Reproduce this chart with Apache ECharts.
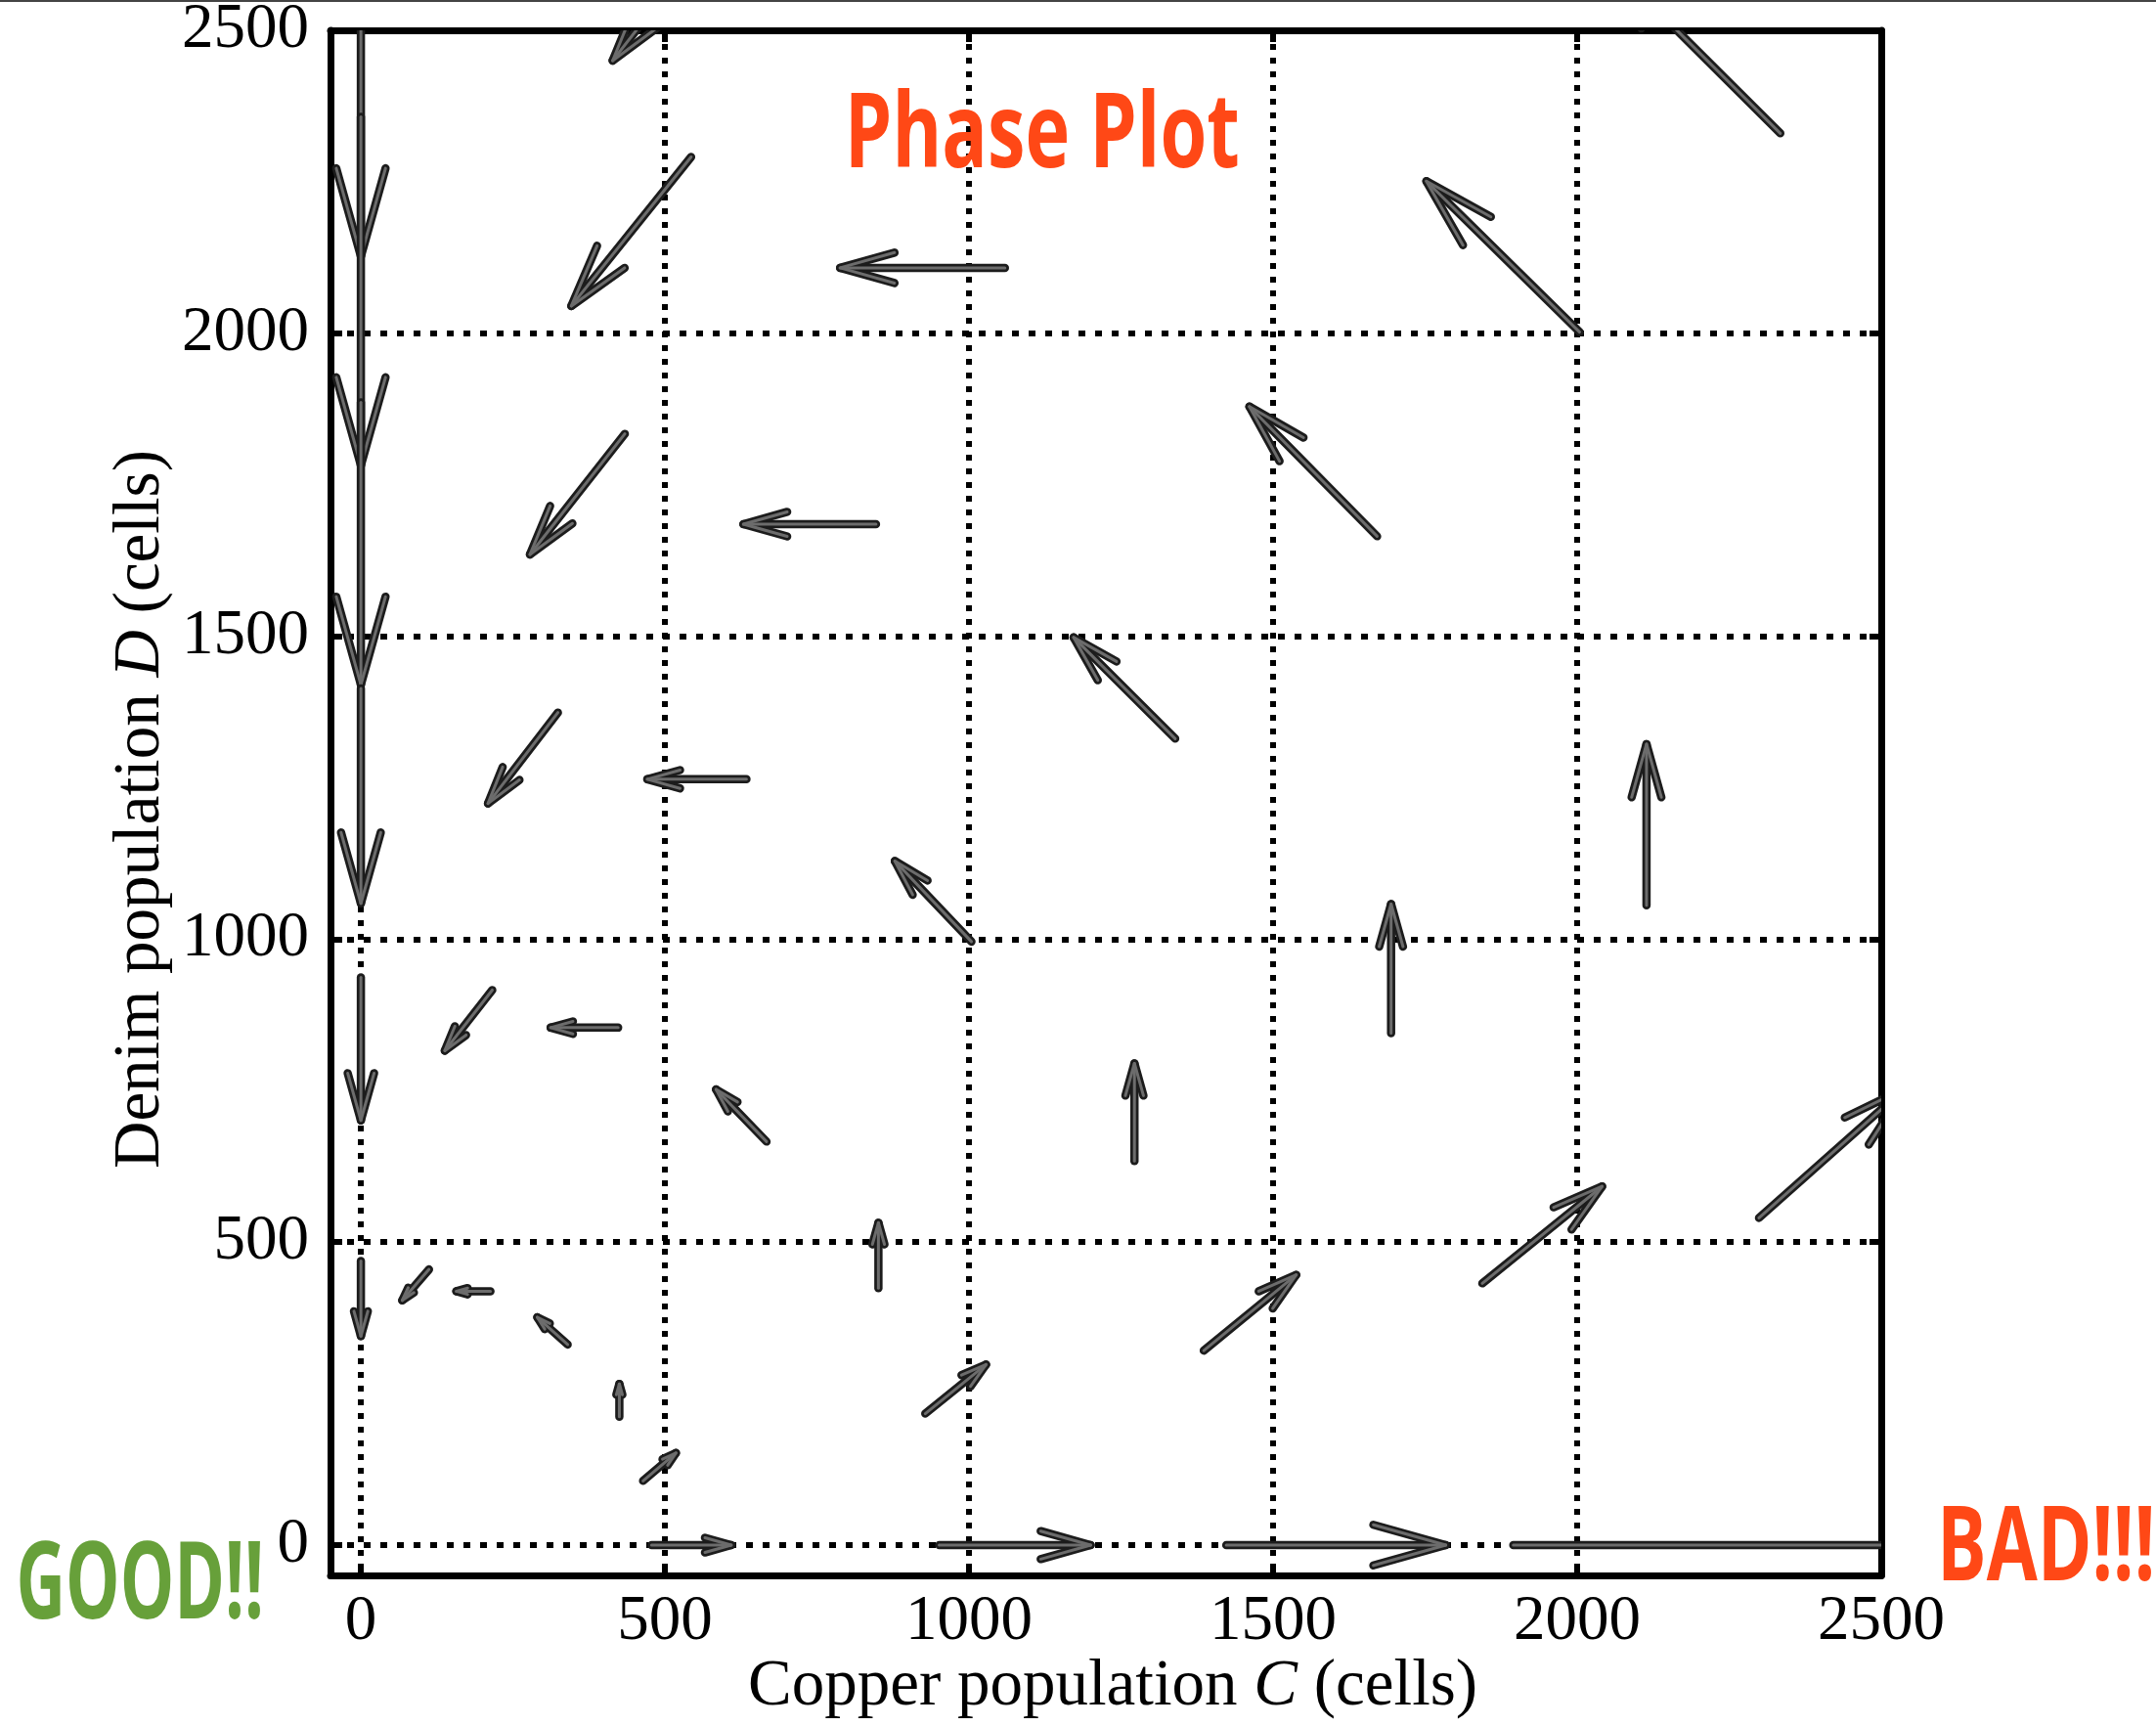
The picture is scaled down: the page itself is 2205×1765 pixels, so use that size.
<!DOCTYPE html>
<html><head><meta charset="utf-8">
<script src="https://cdn.jsdelivr.net/npm/echarts@6/dist/echarts.min.js"></script>
<style>html,body{margin:0;padding:0;background:#fff}#c{width:2205px;height:1765px}</style>
</head><body><div id="c"></div>
<script>
// ---- data: arrow tails (C, D) and vector components (dC, dD) ----
const tailC = [0,0,0,0,0,0, 112,216,324,434,543,650, 213,423,634,847,1059, 340,667,1004,1339,1671,2004,2334, 425,851,1272,1694,2114, 464,928,1386,1844,2299, 478,951,1423,1895];
const tailD = [2829,2357,1886,1414,937,469, 455,916,1374,1834,2291,2754, 419,854,1264,1685,2108, 331,666,996,1331,1665,2002,2330, 212,424,634,845,1056, 106,217,321,432,540, 0,0,0,0];
const velC  = [0,0,0,0,0,0, -44,-78,-115,-156,-197,-236, -56,-111,-163,-218,-271, -50,-83,-126,-167,-210,-252,-300, 0,0,0,0,0, 54,100,152,197,240, 131,249,361,950];
const velD  = [-702,-575,-466,-355,-236,-124, -51,-100,-150,-199,-246,-304, 0,0,0,0,0, 45,86,133,167,214,249,300, 54,108,161,213,266, 46,81,125,160,214, 0,0,0,0];
const axisMin = -50, axisMax = 2500, tickStep = 500;
const xTitleParts = ['Copper population ', 'C', ' (cells)'];
const yTitleParts = ['Denim population ', 'D', ' (cells)'];
const titleText = 'Phase Plot', goodText = 'GOOD!!', badText = 'BAD!!!';

const arrows = tailC.map((c, i) => [c, tailD[i], velC[i], velD[i]]);

const chart = echarts.init(document.getElementById('c'), null, {renderer: 'canvas'});
const SERIF = '"Liberation Serif", "Times New Roman", serif';
const MARK = '"Open Sans", "Noto Sans", sans-serif';

const mctx = document.createElement('canvas').getContext('2d');
function fitText(str, weight, box, color) {
  const base = 100;
  const font = weight + ' ' + base + 'px ' + MARK;
  mctx.font = font; mctx.textBaseline = 'middle';
  const m = mctx.measureText(str);
  const asc = m.actualBoundingBoxAscent, desc = m.actualBoundingBoxDescent;
  const l = m.actualBoundingBoxLeft, r = m.actualBoundingBoxRight;
  const sy = (box.bottom - box.top) / (asc + desc);
  const sx = (box.right - box.left) / (l + r);
  return {type: 'text', x: box.left + l * sx, y: box.top + asc * sy, scaleX: sx, scaleY: sy, z: 100,
    style: {text: str, font: font, fill: color, align: 'left', verticalAlign: 'middle'}};
}
function baselineOffset(size) {
  mctx.font = size + 'px ' + SERIF; mctx.textBaseline = 'middle';
  return mctx.measureText('H').actualBoundingBoxDescent;
}
const TS = 67;
const dOff = baselineOffset(TS);
function richTitle(parts) {
  return {
    text: '{n|' + parts[0] + '}{i|' + parts[1] + '}{n|' + parts[2] + '}',
    rich: {
      n: {fontFamily: SERIF, fontSize: TS, fill: '#000'},
      i: {fontFamily: SERIF, fontSize: TS, fontStyle: 'italic', fill: '#000'}
    },
    fontFamily: SERIF, fontSize: TS, fill: '#000', align: 'left', verticalAlign: 'middle'
  };
}

function renderArrow(params, api) {
  const x = api.value(0), y = api.value(1), u = api.value(2), v = api.value(3);
  const p0 = api.coord([x, y]), p1 = api.coord([x + u, y + v]);
  const dx = p1[0] - p0[0], dy = p1[1] - p0[1];
  const L = Math.hypot(dx, dy) || 1;
  const ux = dx / L, uy = dy / L;
  const h = Math.min(0.33 * L, 90), w = 0.28 * h;
  const bx = p1[0] - ux * h, by = p1[1] - uy * h;
  const b1 = [bx - uy * w, by + ux * w], b2 = [bx + uy * w, by - ux * w];
  const outer = {stroke: '#1c1c1c', lineWidth: 8.5, lineCap: 'round', lineJoin: 'round', fill: null};
  const inner = {stroke: '#6c6c6c', lineWidth: 3, lineCap: 'round', lineJoin: 'round', fill: null};
  const seg = {x1: p0[0], y1: p0[1], x2: p1[0], y2: p1[1]};
  const head = {points: [b1, p1, b2]};
  return {type: 'group', children: [
    {type: 'line', shape: seg, style: outer},
    {type: 'polyline', shape: head, style: outer},
    {type: 'line', shape: seg, style: inner},
    {type: 'polyline', shape: head, style: inner}
  ]};
}

const frame = {show: true, onZero: false, lineStyle: {color: '#000', width: 7}};
const tick = {show: true, inside: true, length: 12, lineStyle: {color: '#000', width: 6}};
const common = {type: 'value', min: axisMin, max: axisMax, splitNumber: 5, minInterval: tickStep, maxInterval: tickStep};
const plain = v => String(v);

chart.setOption({
  animation: false,
  backgroundColor: '#fff',
  grid: {left: 338, top: 31, width: 1586, height: 1580, containLabel: false, outerBoundsMode: 'none'},
  xAxis: [
    Object.assign({}, common, {position: 'bottom', axisLine: frame, axisTick: tick,
      axisLabel: {show: true, showMinLabel: false, margin: 15, fontFamily: SERIF, fontSize: 65, color: '#000', formatter: plain},
      splitLine: {show: true, lineStyle: {color: '#000', width: 6, type: [6, 8]}}}),
    Object.assign({}, common, {position: 'top', axisLine: frame, axisTick: tick,
      axisLabel: {show: false}, splitLine: {show: false}})
  ],
  yAxis: [
    Object.assign({}, common, {position: 'left', axisLine: frame, axisTick: tick,
      axisLabel: {show: true, showMinLabel: false, margin: 22, fontFamily: SERIF, fontSize: 65, color: '#000', formatter: plain},
      splitLine: {show: true, lineStyle: {color: '#000', width: 6, type: [7, 10]}}}),
    Object.assign({}, common, {position: 'right', axisLine: frame, axisTick: tick,
      axisLabel: {show: false}, splitLine: {show: false}})
  ],
  series: [{
    type: 'custom', xAxisIndex: 0, yAxisIndex: 0, clip: true, z: 5,
    renderItem: renderArrow, data: arrows
  }],
  graphic: [
    {type: 'rect', shape: {x: 0, y: 0, width: 2205, height: 2}, style: {fill: '#444'}, z: 100},
    {type: 'text', x: 765, y: 1743 - dOff, z: 100, style: richTitle(xTitleParts)},
    {type: 'text', x: 162 - dOff, y: 1195, rotation: Math.PI / 2, z: 100, style: richTitle(yTitleParts)},
    fitText(titleText, 'bold', {left: 870, right: 1266, top: 89, bottom: 172}, '#FF4816'),
    fitText(goodText, 'bold', {left: 20, right: 266, top: 1575, bottom: 1656}, '#67A03A'),
    fitText(badText, 'bold', {left: 1987, right: 2200, top: 1538, bottom: 1617}, '#FF4816')
  ]
});
</script></body></html>
